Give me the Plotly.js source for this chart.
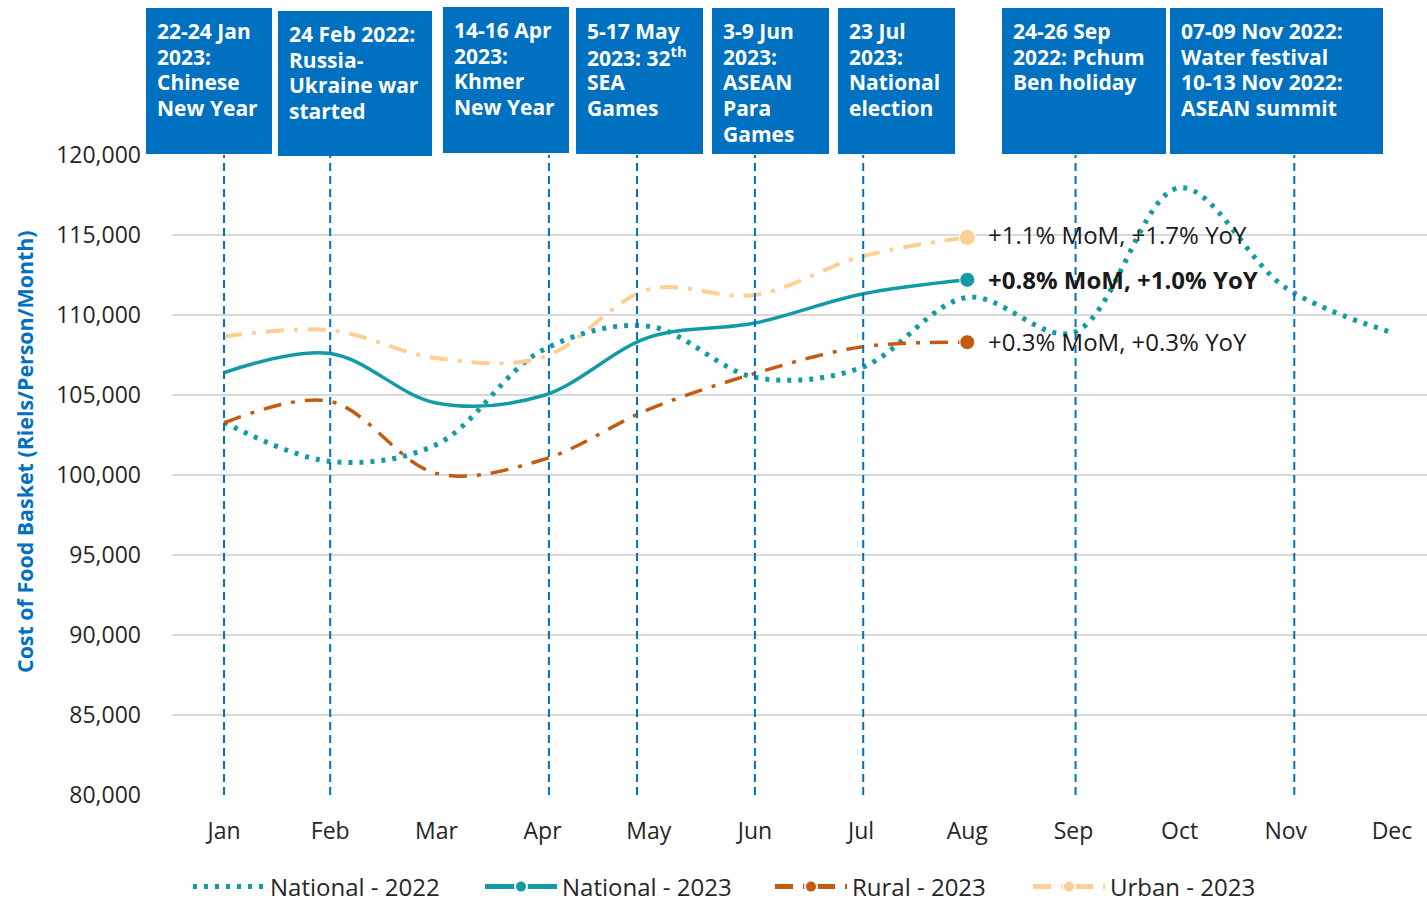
<!DOCTYPE html>
<html>
<head>
<meta charset="utf-8">
<script src="https://cdn.plot.ly/plotly-3.0.1.min.js"></script>
<style>
  html, body { margin: 0; padding: 0; background: #ffffff; }
  #chart { width: 1427px; height: 899px; }
</style>
</head>
<body>
<div id="chart"></div>
<script>
// ---------------- DATA ----------------
const months = ["Jan","Feb","Mar","Apr","May","Jun","Jul","Aug","Sep","Oct","Nov","Dec"];

const national2022 = [103300, 100850, 101900, 107800, 109300, 106100, 106700, 111100, 108900, 117950, 111700, 108900];
const national2023 = [106400, 107600, 104500, 104950, 108600, 109500, 111300, 112200];
const rural2023    = [103250, 104600, 100100, 100950, 104100, 106350, 108000, 108300];
const urban2023    = [108650, 109050, 107300, 107350, 111600, 111250, 113650, 114850];

const seriesNames = ["National - 2022", "National - 2023", "Rural - 2023", "Urban - 2023"];

const endLabels = [
  "+0.8% MoM, +1.0% YoY",   // National 2023
  "+0.3% MoM, +0.3% YoY",   // Rural 2023
  "+1.1% MoM, +1.7% YoY"    // Urban 2023
];

const yTitle = "Cost of Food Basket (Riels/Person/Month)";

// event marker positions, in month units (0 = Jan)
const eventX = [0.0, 1.0, 3.06, 3.89, 5.0, 6.02, 8.02, 10.08];
const eventLabels = [
  "22-24 Jan<br>2023:<br>Chinese<br>New Year",
  "24 Feb 2022:<br>Russia-<br>Ukraine war<br>started",
  "14-16 Apr<br>2023:<br>Khmer<br>New Year",
  "5-17 May<br>2023: 32<sup>th</sup><br>SEA<br>Games",
  "3-9 Jun<br>2023:<br>ASEAN<br>Para<br>Games",
  "23 Jul<br>2023:<br>National<br>election",
  "24-26 Sep<br>2022: Pchum<br>Ben holiday",
  "07-09 Nov 2022:<br>Water festival<br>10-13 Nov 2022:<br>ASEAN summit"
];

// ---------------- STYLE / LAYOUT ----------------
const W = 1427, H = 899;
const M = {l: 172, r: 0, t: 155, b: 104, autoexpand: false};
const plotW = W - M.l - M.r, plotH = H - M.t - M.b;
const px2paperX = px => (px - M.l) / plotW;
const px2paperY = py => (H - M.b - py) / plotH;

// event boxes in pixel space [left, right, top, bottom]
const boxPx = [
  [146, 272, 8, 154],
  [278, 432, 11, 156],
  [443, 569, 7, 153],
  [576, 703, 8, 154],
  [712, 829, 8, 154],
  [838, 955, 8, 154],
  [1002, 1166, 8, 154],
  [1170, 1383, 8, 154]
];
const BOX_LINE_H = 25.7;

const TEAL = "#139ba5";
const ORANGE = "#c55a11";
const PEACH = "#fdcf93";
const BLUE = "#0070c0";
const FONT = "Open Sans, sans-serif";

const idx = arr => arr.map((_, i) => i);
const endSizes = (arr, s) => arr.map((_, i) => i === arr.length - 1 ? s : 0);

const traces = [
  {
    x: idx(national2022), y: national2022, name: seriesNames[0],
    type: "scatter", mode: "lines", legendwidth: 205,
    line: {color: TEAL, width: 5, dash: "4px,7px", shape: "spline", smoothing: 1}
  },
  {
    x: idx(national2023), y: national2023, name: seriesNames[1],
    type: "scatter", mode: "lines+markers", legendwidth: 203,
    line: {color: TEAL, width: 3.5, shape: "spline", smoothing: 1},
    marker: {color: TEAL, opacity: 1, size: endSizes(national2023, 15)}
  },
  {
    x: idx(rural2023), y: rural2023, name: seriesNames[2],
    type: "scatter", mode: "lines+markers", legendwidth: 171,
    line: {color: ORANGE, width: 3.5, dash: "18px,10px,4px,10px", shape: "spline", smoothing: 1},
    marker: {color: ORANGE, opacity: 1, size: endSizes(rural2023, 15)}
  },
  {
    x: idx(urban2023), y: urban2023, name: seriesNames[3],
    type: "scatter", mode: "lines+markers",
    line: {color: PEACH, width: 4, dash: "18px,10px,4px,10px", shape: "spline", smoothing: 1},
    marker: {color: PEACH, opacity: 1, size: endSizes(urban2023, 16)}
  }
];

const shapes = [];
const annotations = [];

// vertical event lines
eventX.forEach(x => {
  shapes.push({
    type: "line", xref: "x", yref: "paper",
    x0: x, x1: x, y0: 0, y1: 1,
    line: {color: BLUE, width: 2, dash: "8px,5px"},
    layer: "above"
  });
});

// event boxes + text (one annotation per line for tight line spacing)
boxPx.forEach((b, i) => {
  shapes.push({
    type: "rect", xref: "paper", yref: "paper",
    x0: px2paperX(b[0]), x1: px2paperX(b[1]),
    y0: px2paperY(b[3]), y1: px2paperY(b[2]),
    fillcolor: BLUE, line: {width: 0}, layer: "above"
  });
  eventLabels[i].split("<br>").forEach((line, k) => {
    annotations.push({
      xref: "paper", yref: "paper",
      x: px2paperX(b[0] + 9), y: px2paperY(b[2] + 23 + k * BOX_LINE_H),
      xanchor: "left", yanchor: "middle", align: "left",
      showarrow: false, text: line,
      font: {family: FONT, size: 21, color: "#ffffff", weight: 700}
    });
  });
});

// end labels
const endSeries = [national2023, rural2023, urban2023];
const endYShift = [0, 1, 3];
endSeries.forEach((s, i) => {
  annotations.push({
    xref: "x", yref: "y",
    x: s.length - 1, y: s[s.length - 1],
    xanchor: "left", yanchor: "middle", xshift: 19, yshift: endYShift[i],
    showarrow: false, text: i === 0 ? "<b>" + endLabels[i] + "</b>" : endLabels[i],
    font: {family: FONT, size: 24, color: "#1a1a1a"}
  });
});

// y-axis title (as rotated annotation so it can sit where the reference has it)
annotations.push({
  xref: "paper", yref: "paper",
  x: px2paperX(24), y: px2paperY(452),
  xanchor: "center", yanchor: "middle", textangle: -90,
  showarrow: false, text: "<b>" + yTitle + "</b>",
  font: {family: FONT, size: 21.4, color: BLUE}
});

const layout = {
  width: W, height: H,
  margin: M,
  paper_bgcolor: "#ffffff",
  plot_bgcolor: "#ffffff",
  font: {family: FONT, color: "#262626"},
  showlegend: true,
  legend: {
    orientation: "h",
    x: px2paperX(188), xanchor: "left",
    y: px2paperY(887), yanchor: "middle",
    font: {family: FONT, size: 24, color: "#262626"},
    itemsizing: "constant",
    itemwidth: 72,
    traceorder: "normal"
  },
  xaxis: {
    range: [-0.49, 11.33],
    tickvals: idx(months), ticktext: months,
    showgrid: false, zeroline: false, showline: false,
    ticks: "", ticklabelstandoff: 20,
    tickfont: {family: FONT, size: 23, color: "#262626"},
    fixedrange: true
  },
  yaxis: {
    range: [80000, 120000],
    dtick: 5000, tick0: 80000,
    tickformat: ",d",
    showgrid: true, gridcolor: "#d9d9d9", gridwidth: 2,
    zeroline: false, showline: false,
    ticks: "", ticklabelstandoff: 30,
    tickfont: {family: FONT, size: 23, color: "#262626"},
    fixedrange: true
  },
  shapes: shapes,
  annotations: annotations
};

Plotly.newPlot("chart", traces, layout, {displayModeBar: false, staticPlot: true});
</script>
</body>
</html>
